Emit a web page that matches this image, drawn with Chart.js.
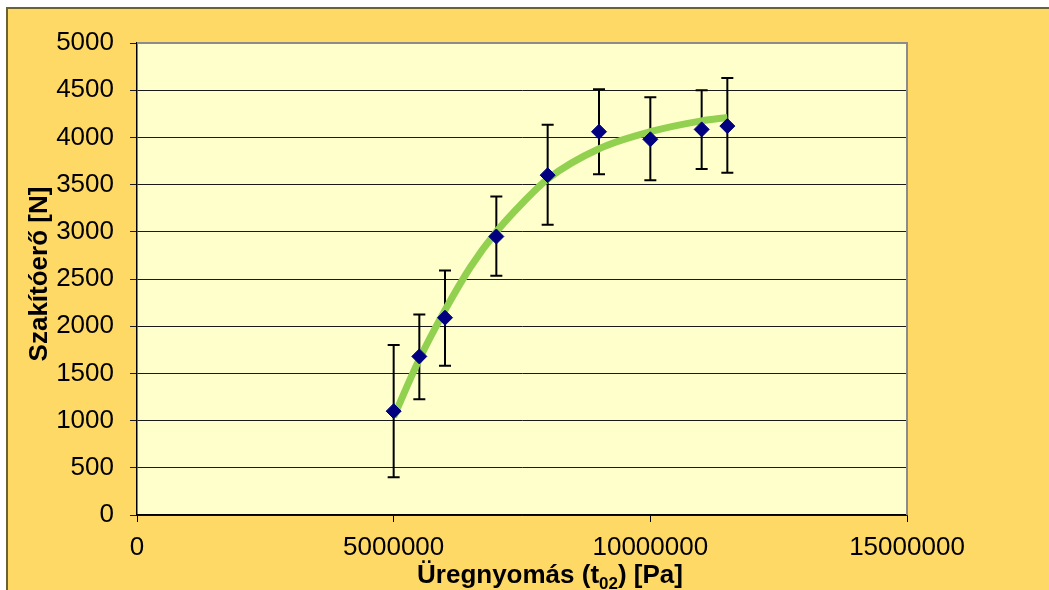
<!DOCTYPE html>
<html>
<head>
<meta charset="utf-8">
<script src="https://cdn.jsdelivr.net/npm/chart.js@4"></script>
<style>
  html, body { margin: 0; padding: 0; background: #ffffff; }
  #wrap {
    position: absolute; left: 6px; top: 7px;
    width: 1041px; height: 581px;
    border-left: 2px solid #6b6232; border-top: 2px solid #6b6232;
    background: #FFD966;
  }
  canvas { display: block; }
</style>
</head>
<body>
<div id="wrap"><canvas id="chart" width="1041" height="581"></canvas></div>
<script>
// measured points
const pressure = [5000000, 5500000, 6000000, 7000000, 8000000, 9000000, 10000000, 11000000, 11500000];
const force = [1100, 1680, 2090, 2950, 3600, 4060, 3980, 4085, 4120];
const forceLow = [400, 1225, 1580, 2535, 3075, 3610, 3545, 3665, 3625];
const forceHigh = [1800, 2125, 2590, 3375, 4135, 4510, 4425, 4500, 4630];

// trend line
const trendX = [5000000, 5500000, 6000000, 6500000, 7000000, 7500000, 8000000, 9000000, 10000000, 11000000, 11500000];
const trendY = [1040, 1650, 2170, 2630, 3000, 3300, 3560, 3880, 4060, 4175, 4210];

const xTickLabels = ['0', '5000000', '10000000', '15000000'];
const yTickLabels = ['0', '500', '1000', '1500', '2000', '2500', '3000', '3500', '4000', '4500', '5000'];

const FONT = 'Liberation Sans, Arial, sans-serif';

const plotArea = {
  id: 'plotArea',
  beforeDraw(chart) {
    const a = chart.chartArea;
    const ctx = chart.ctx;
    ctx.save();
    ctx.fillStyle = '#FFFFCC';
    ctx.fillRect(a.left, a.top, a.right - a.left, a.bottom - a.top);
    ctx.restore();
  },
  afterDatasetsDraw(chart) {
    const a = chart.chartArea;
    const ctx = chart.ctx;
    ctx.save();
    ctx.strokeStyle = '#8c8c8c';
    ctx.lineWidth = 2;
    ctx.beginPath();
    ctx.moveTo(a.left, a.top);
    ctx.lineTo(a.right, a.top);
    ctx.lineTo(a.right, a.bottom);
    ctx.stroke();
    ctx.restore();
  }
};

// error bars drawn under the trend line and markers
const errorBars = {
  id: 'errorBars',
  beforeDatasetsDraw(chart) {
    const xs = chart.scales.x;
    const ys = chart.scales.y;
    const ctx = chart.ctx;
    ctx.save();
    ctx.strokeStyle = '#000000';
    ctx.lineWidth = 2;
    for (let i = 0; i < pressure.length; i++) {
      const x = xs.getPixelForValue(pressure[i]);
      const y1 = ys.getPixelForValue(forceLow[i]);
      const y2 = ys.getPixelForValue(forceHigh[i]);
      ctx.beginPath();
      ctx.moveTo(x, y1); ctx.lineTo(x, y2);
      ctx.moveTo(x - 6, y1); ctx.lineTo(x + 6, y1);
      ctx.moveTo(x - 6, y2); ctx.lineTo(x + 6, y2);
      ctx.stroke();
    }
    ctx.restore();
  }
};

// axis titles (x title has a subscript)
const axisTitles = {
  id: 'axisTitles',
  afterDraw(chart) {
    const ctx = chart.ctx;
    ctx.save();
    ctx.fillStyle = '#000000';
    ctx.textBaseline = 'alphabetic';

    const big = 'bold 26px ' + FONT;
    const small = 'bold 17px ' + FONT;
    const parts = [
      { t: 'Üregnyomás (t', f: big, dy: 0 },
      { t: '02', f: small, dy: 6 },
      { t: ') [Pa]', f: big, dy: 0 }
    ];
    let total = 0;
    parts.forEach(p => { ctx.font = p.f; p.w = ctx.measureText(p.t).width; total += p.w; });
    let x = 542 - total / 2;
    const base = 574;
    ctx.textAlign = 'left';
    parts.forEach(p => {
      ctx.font = p.f;
      ctx.fillText(p.t, x, base + p.dy);
      x += p.w;
    });

    ctx.translate(32, 265);
    ctx.rotate(-Math.PI / 2);
    ctx.font = big;
    ctx.textAlign = 'center';
    ctx.textBaseline = 'middle';
    ctx.fillText('Szakítóerő [N]', 0, 0);
    ctx.restore();
  }
};

new Chart(document.getElementById('chart'), {
  type: 'scatter',
  data: {
    datasets: [
      {
        label: 'mért',
        data: pressure.map((p, i) => ({ x: p, y: force[i] })),
        pointStyle: 'rectRot',
        pointRadius: 7.5,
        pointHoverRadius: 7.5,
        backgroundColor: '#000080',
        borderColor: '#000080',
        borderWidth: 1,
        showLine: false
      },
      {
        label: 'trend',
        data: trendX.map((p, i) => ({ x: p, y: trendY[i] })),
        showLine: true,
        borderColor: '#92D050',
        borderWidth: 7,
        cubicInterpolationMode: 'monotone',
        pointRadius: 0,
        pointHoverRadius: 0,
        borderCapStyle: 'butt'
      }
    ]
  },
  options: {
    responsive: false,
    animation: false,
    events: [],
    layout: { padding: { left: 0, top: 34, right: 142, bottom: 0 } },
    plugins: {
      legend: { display: false },
      tooltip: { enabled: false }
    },
    scales: {
      x: {
        type: 'linear',
        min: 0,
        max: 15000000,
        afterFit(scale) { scale.height = 75; },
        afterBuildTicks(scale) {
          scale.ticks = xTickLabels.map(v => ({ value: Number(v) }));
        },
        ticks: {
          callback: (v, i) => xTickLabels[i],
          color: '#000000',
          font: { family: FONT, size: 26 },
          padding: 10,
          maxRotation: 0,
          autoSkip: false
        },
        grid: {
          drawOnChartArea: false,
          drawTicks: true,
          tickLength: 7,
          color: '#000000',
          lineWidth: 1
        },
        border: { display: true, color: '#000000', width: 1.5 }
      },
      y: {
        min: 0,
        max: 5000,
        afterFit(scale) { scale.width = 129; },
        afterBuildTicks(scale) {
          scale.ticks = yTickLabels.map(v => ({ value: Number(v) }));
        },
        ticks: {
          callback: (v, i) => yTickLabels[i],
          color: '#000000',
          font: { family: FONT, size: 26 },
          padding: 16,
          autoSkip: false
        },
        grid: {
          drawTicks: true,
          tickLength: 7,
          color: '#1a1a1a',
          lineWidth: 1
        },
        border: { display: true, color: '#000000', width: 1.5 }
      }
    }
  },
  plugins: [plotArea, errorBars, axisTitles]
});
</script>
</body>
</html>
